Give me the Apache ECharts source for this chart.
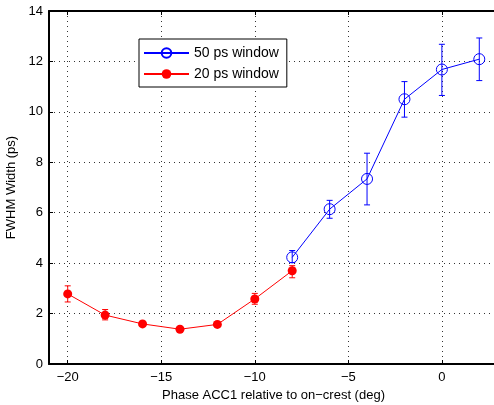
<!DOCTYPE html>
<html>
<head>
<meta charset="utf-8">
<script src="https://cdn.jsdelivr.net/npm/echarts@6/dist/echarts.min.js"></script>
<style>
    html, body { margin: 0; padding: 0; background: #fff; }
    #chart { width: 494px; height: 405px; }
</style>
</head>
<body>
<div id="chart"></div>
<script>
// phase (deg), FWHM width (ps) and error bar ends
const phase50 = [-8, -6, -4, -2, 0, 2]
const width50 = [4.23, 6.14, 7.34, 10.5, 11.68, 12.09]
const low50 = [4.02, 5.78, 6.31, 9.79, 10.65, 11.24]
const high50 = [4.5, 6.49, 8.36, 11.2, 12.68, 12.93]

const phase20 = [-20, -18, -16, -14, -12, -10, -8]
const width20 = [2.78, 1.94, 1.59, 1.38, 1.57, 2.58, 3.70]
const low20 = [2.46, 1.75, 1.5, 1.3, 1.48, 2.37, 3.42]
const high20 = [3.1, 2.16, 1.68, 1.46, 1.66, 2.8, 3.9]

const xTicks = [-20, -15, -10, -5, 0]
const yTicks = [0, 2, 4, 6, 8, 10, 12, 14]

const font = 'Liberation Sans, Arial, sans-serif'
const chart = echarts.init(document.getElementById('chart'))

function pairs (xs, ys) {
    return xs.map((x, i) => [x, ys[i]])
}

function errData (xs, lo, hi) {
    return xs.map((x, i) => [x, lo[i], hi[i]])
}

function errSeries (name, color, data) {
    return {
        name: name,
        type: 'custom',
        data: data,
        z: 3,
        silent: true,
        renderItem: function (params, api) {
            const top = api.coord([api.value(0), api.value(2)])
            const bot = api.coord([api.value(0), api.value(1)])
            const cap = 3
            const style = { stroke: color, lineWidth: 1 }
            return {
                type: 'group',
                children: [
                    { type: 'line', shape: { x1: top[0], y1: top[1], x2: bot[0], y2: bot[1] }, style: style },
                    { type: 'line', shape: { x1: top[0] - cap, y1: top[1], x2: top[0] + cap, y2: top[1] }, style: style },
                    { type: 'line', shape: { x1: bot[0] - cap, y1: bot[1], x2: bot[0] + cap, y2: bot[1] }, style: style }
                ]
            }
        }
    }
}

const minus = v => String(v).replace('-', '\u2212')

const option = {
    animation: false,
    grid: {
        left: 49,
        top: 11,
        right: -4,
        bottom: 41,
        outerBoundsMode: 'none',
        containLabel: false,
        show: false
    },
    legend: {
        orient: 'vertical',
        left: 139,
        top: 39,
        data: ['50 ps window', '20 ps window'],
        itemWidth: 45,
        itemHeight: 12,
        itemGap: 7,
        padding: [7, 8, 6, 4],
        borderColor: '#000',
        borderWidth: 1,
        backgroundColor: '#fff',
        textStyle: { fontFamily: font, fontSize: 14, color: '#000' }
    },
    xAxis: [
        {
            type: 'value',
            min: -21,
            max: 3,
            name: 'Phase ACC1 relative to on\u2212crest (deg)',
            nameLocation: 'middle',
            nameGap: 23,
            nameTextStyle: { fontFamily: font, fontSize: 13, color: '#000' },
            axisLine: { show: true, onZero: false, lineStyle: { color: '#000', width: 2 } },
            axisTick: { show: true, inside: true, length: 4, customValues: xTicks, lineStyle: { color: '#000' } },
            axisLabel: {
                customValues: xTicks,
                fontFamily: font,
                fontSize: 13,
                color: '#000',
                margin: 7,
                formatter: minus
            },
            splitLine: { show: true, lineStyle: { color: '#333', type: [1, 4], width: 1 } }
        },
        {
            type: 'value',
            position: 'top',
            min: -21,
            max: 3,
            axisLine: { show: true, onZero: false, lineStyle: { color: '#000', width: 2 } },
            axisTick: { show: true, inside: true, length: 4, customValues: xTicks, lineStyle: { color: '#000' } },
            axisLabel: { show: false },
            splitLine: { show: false }
        }
    ],
    yAxis: {
        type: 'value',
        min: 0,
        max: 14,
        interval: 2,
        name: 'FWHM Width (ps)',
        nameLocation: 'middle',
        nameGap: 30,
        nameTextStyle: { fontFamily: font, fontSize: 13, color: '#000' },
        axisLine: { show: true, onZero: false, lineStyle: { color: '#000', width: 2 } },
        axisTick: { show: true, inside: true, length: 4, lineStyle: { color: '#000' } },
        axisLabel: {
            customValues: yTicks,
            fontFamily: font,
            fontSize: 13,
            color: '#000',
            margin: 6
        },
        splitLine: { show: true, lineStyle: { color: '#333', type: [1, 4], width: 1 } }
    },
    series: [
        errSeries('err50', '#0000ff', errData(phase50, low50, high50)),
        errSeries('err20', '#ff0000', errData(phase20, low20, high20)),
        {
            name: '50 ps window',
            type: 'line',
            data: pairs(phase50, width50),
            symbol: 'circle',
            symbolSize: 11,
            z: 4,
            lineStyle: { color: '#0000ff', width: 1 },
            itemStyle: { color: 'rgba(255,255,255,0)', borderColor: '#0000ff', borderWidth: 1 }
        },
        {
            name: '20 ps window',
            type: 'line',
            data: pairs(phase20, width20),
            symbol: 'circle',
            symbolSize: 9,
            z: 4,
            lineStyle: { color: '#ff0000', width: 1 },
            itemStyle: { color: '#ff0000' }
        }
    ]
}

chart.setOption(option)
</script>
</body>
</html>
